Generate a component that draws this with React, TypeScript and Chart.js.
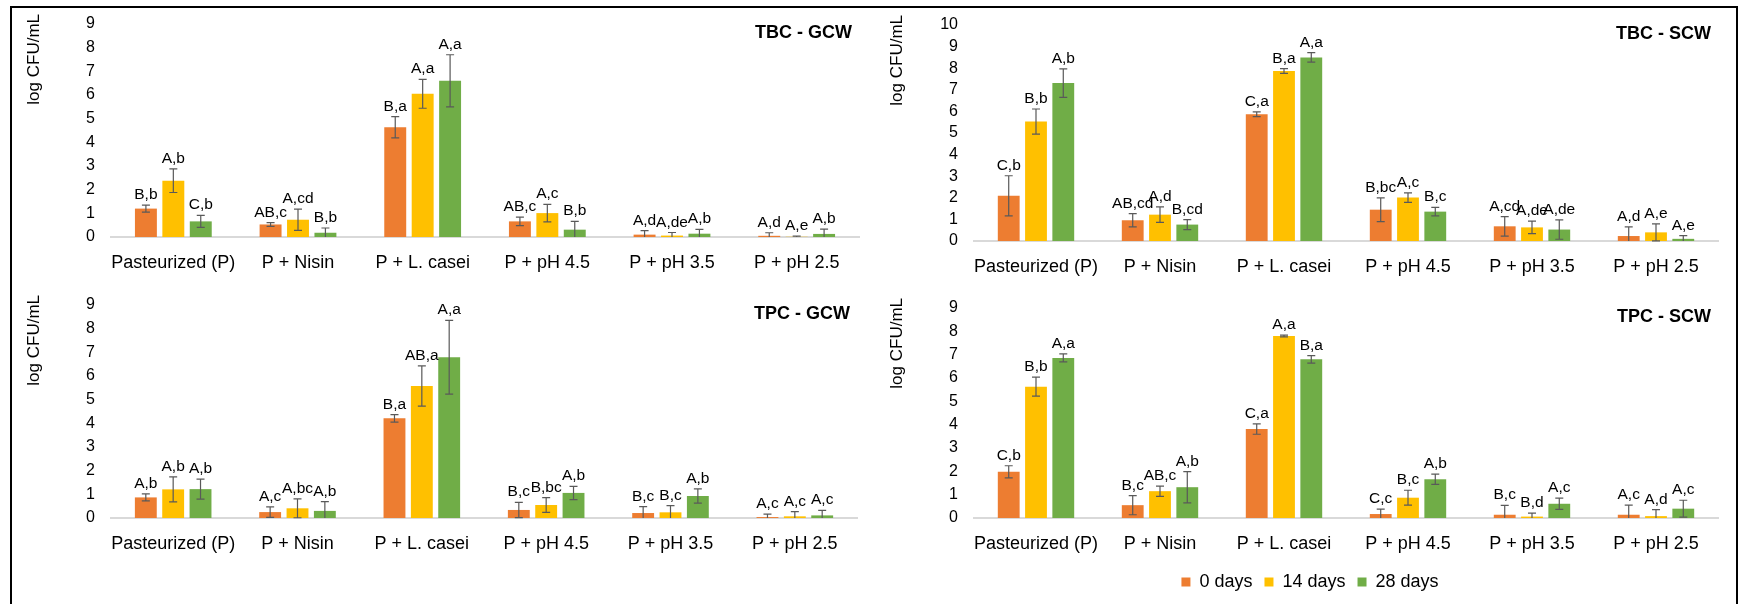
import { useEffect, useRef } from 'react';
import { Chart, registerables } from 'chart.js';

Chart.register(...registerables);

const FONT = "'Liberation Sans', Arial, sans-serif";

const categories = ['Pasteurized (P)', 'P + Nisin', 'P + L. casei', 'P + pH 4.5', 'P + pH 3.5', 'P + pH 2.5'];
const seriesNames = ['0 days', '14 days', '28 days'];
const seriesColors = ['#ED7D31', '#FFC000', '#70AD47'];

// TBC - GCW
const tbcGcwDay0 = [1.2, 0.53, 4.64, 0.66, 0.1, 0.05];
const tbcGcwDay14 = [2.38, 0.73, 6.05, 1.01, 0.06, 0.01];
const tbcGcwDay28 = [0.66, 0.18, 6.6, 0.31, 0.14, 0.13];
const tbcGcwSd0 = [0.15, 0.08, 0.45, 0.18, 0.17, 0.13];
const tbcGcwSd14 = [0.5, 0.45, 0.61, 0.37, 0.13, 0.03];
const tbcGcwSd28 = [0.25, 0.2, 1.1, 0.35, 0.18, 0.2];
const tbcGcwLetters0 = ['B,b', 'AB,c', 'B,a', 'AB,c', 'A,d', 'A,d'];
const tbcGcwLetters14 = ['A,b', 'A,cd', 'A,a', 'A,c', 'A,de', 'A,e'];
const tbcGcwLetters28 = ['C,b', 'B,b', 'A,a', 'B,b', 'A,b', 'A,b'];

// TBC - SCW
const tbcScwDay0 = [2.09, 0.96, 5.87, 1.45, 0.68, 0.23];
const tbcScwDay14 = [5.53, 1.22, 7.87, 2.01, 0.63, 0.4];
const tbcScwDay28 = [7.31, 0.76, 8.5, 1.36, 0.53, 0.1];
const tbcScwSd0 = [0.93, 0.31, 0.11, 0.55, 0.45, 0.42];
const tbcScwSd14 = [0.58, 0.36, 0.11, 0.22, 0.29, 0.39];
const tbcScwSd28 = [0.66, 0.23, 0.22, 0.2, 0.45, 0.15];
const tbcScwLetters0 = ['C,b', 'AB,cd', 'C,a', 'B,bc', 'A,cd', 'A,d'];
const tbcScwLetters14 = ['B,b', 'A,d', 'B,a', 'A,c', 'A,de', 'A,e'];
const tbcScwLetters28 = ['A,b', 'B,cd', 'A,a', 'B,c', 'A,de', 'A,e'];

// TPC - GCW
const tpcGcwDay0 = [0.87, 0.25, 4.21, 0.34, 0.21, 0.04];
const tpcGcwDay14 = [1.21, 0.41, 5.58, 0.55, 0.24, 0.07];
const tpcGcwDay28 = [1.22, 0.3, 6.79, 1.06, 0.93, 0.11];
const tpcGcwSd0 = [0.15, 0.22, 0.16, 0.32, 0.27, 0.12];
const tpcGcwSd14 = [0.53, 0.4, 0.85, 0.31, 0.28, 0.2];
const tpcGcwSd28 = [0.42, 0.39, 1.56, 0.28, 0.3, 0.21];
const tpcGcwLetters0 = ['A,b', 'A,c', 'B,a', 'B,c', 'B,c', 'A,c'];
const tpcGcwLetters14 = ['A,b', 'A,bc', 'AB,a', 'B,bc', 'B,c', 'A,c'];
const tpcGcwLetters28 = ['A,b', 'A,b', 'A,a', 'A,b', 'A,b', 'A,c'];

// TPC - SCW
const tpcScwDay0 = [1.98, 0.55, 3.81, 0.17, 0.14, 0.14];
const tpcScwDay14 = [5.63, 1.15, 7.8, 0.87, 0.06, 0.08];
const tpcScwDay28 = [6.86, 1.32, 6.8, 1.66, 0.61, 0.4];
const tpcScwSd0 = [0.26, 0.41, 0.22, 0.21, 0.4, 0.41];
const tpcScwSd14 = [0.41, 0.22, 0.04, 0.32, 0.15, 0.28];
const tpcScwSd28 = [0.17, 0.67, 0.16, 0.22, 0.24, 0.36];
const tpcScwLetters0 = ['C,b', 'B,c', 'C,a', 'C,c', 'B,c', 'A,c'];
const tpcScwLetters14 = ['B,b', 'AB,c', 'A,a', 'B,c', 'B,d', 'A,d'];
const tpcScwLetters28 = ['A,a', 'A,b', 'B,a', 'A,b', 'A,c', 'A,c'];

const yMaxGcw = 9;
const yMaxTbcScw = 10;
const yMaxTpcScw = 9;

// Error bars with letter annotations above each bar
const barAnnotations = {
  id: 'barAnnotations',
  afterDatasetsDraw(chart: any, _args: any, opts: any) {
    const { ctx, chartArea } = chart;
    const yScale = chart.scales.y;
    chart.data.datasets.forEach((ds: any, di: number) => {
      const meta = chart.getDatasetMeta(di);
      meta.data.forEach((bar: any, i: number) => {
        const v = ds.data[i] as number;
        const e = opts.errors[di][i] as number;
        const x = bar.x;
        const top = yScale.getPixelForValue(v + e);
        const rawBottom = yScale.getPixelForValue(v - e);
        const bottom = Math.min(rawBottom, chartArea.bottom);
        ctx.save();
        ctx.strokeStyle = '#595959';
        ctx.lineWidth = 1.2;
        ctx.beginPath();
        ctx.moveTo(x, top);
        ctx.lineTo(x, bottom);
        ctx.moveTo(x - 4, top);
        ctx.lineTo(x + 4, top);
        if (rawBottom <= chartArea.bottom) {
          ctx.moveTo(x - 4, bottom);
          ctx.lineTo(x + 4, bottom);
        }
        ctx.stroke();
        ctx.fillStyle = '#000';
        ctx.font = `15.5px ${FONT}`;
        ctx.textAlign = 'center';
        ctx.textBaseline = 'alphabetic';
        ctx.fillText(opts.letters[di][i], x, top - 6);
        ctx.restore();
      });
    });
  },
};

// Panel title (top right) and rotated y-axis title
const panelText = {
  id: 'panelText',
  afterDraw(chart: any, _args: any, opts: any) {
    const { ctx, chartArea } = chart;
    ctx.save();
    ctx.fillStyle = '#000';
    ctx.font = `bold 18px ${FONT}`;
    ctx.textAlign = 'right';
    ctx.textBaseline = 'middle';
    ctx.fillText(opts.title, chartArea.right - 7, chartArea.top + 9);
    ctx.translate(chartArea.left - 77, chartArea.top - 10);
    ctx.rotate(-Math.PI / 2);
    ctx.font = `17px ${FONT}`;
    ctx.textAlign = 'right';
    ctx.textBaseline = 'middle';
    ctx.fillText('log CFU/mL', 0, 0);
    ctx.restore();
  },
};

type Panel = {
  title: string;
  yMax: number;
  means: number[][];
  errors: number[][];
  letters: string[][];
  left: number;
  top: number;
  width: number;
  height: number;
  yWidth: number;
  xHeight: number;
  padding: { top: number; right: number; bottom: number; left: number };
  legend: boolean;
};

const panels: Panel[] = [
  {
    title: 'TBC - GCW',
    yMax: yMaxGcw,
    means: [tbcGcwDay0, tbcGcwDay14, tbcGcwDay28],
    errors: [tbcGcwSd0, tbcGcwSd14, tbcGcwSd28],
    letters: [tbcGcwLetters0, tbcGcwLetters14, tbcGcwLetters28],
    left: 12, top: 8, width: 858, height: 280,
    yWidth: 99, xHeight: 51,
    padding: { top: 16, right: 11, bottom: 0, left: 0 },
    legend: false,
  },
  {
    title: 'TBC - SCW',
    yMax: yMaxTbcScw,
    means: [tbcScwDay0, tbcScwDay14, tbcScwDay28],
    errors: [tbcScwSd0, tbcScwSd14, tbcScwSd28],
    letters: [tbcScwLetters0, tbcScwLetters14, tbcScwLetters28],
    left: 872, top: 8, width: 862, height: 280,
    yWidth: 102, xHeight: 47,
    padding: { top: 17, right: 16, bottom: 0, left: 0 },
    legend: false,
  },
  {
    title: 'TPC - GCW',
    yMax: yMaxGcw,
    means: [tpcGcwDay0, tpcGcwDay14, tpcGcwDay28],
    errors: [tpcGcwSd0, tpcGcwSd14, tpcGcwSd28],
    letters: [tpcGcwLetters0, tpcGcwLetters14, tpcGcwLetters28],
    left: 12, top: 290, width: 858, height: 300,
    yWidth: 99, xHeight: 72,
    padding: { top: 15, right: 13, bottom: 0, left: 0 },
    legend: false,
  },
  {
    title: 'TPC - SCW',
    yMax: yMaxTpcScw,
    means: [tpcScwDay0, tpcScwDay14, tpcScwDay28],
    errors: [tpcScwSd0, tpcScwSd14, tpcScwSd28],
    letters: [tpcScwLetters0, tpcScwLetters14, tpcScwLetters28],
    left: 872, top: 290, width: 862, height: 314,
    yWidth: 72, xHeight: 43,
    padding: { top: 18, right: 16, bottom: 3, left: 30 },
    legend: true,
  },
];

function PanelChart({ panel }: { panel: Panel }) {
  const ref = useRef<HTMLCanvasElement>(null);

  useEffect(() => {
    if (!ref.current) return;
    const chart = new Chart(ref.current, {
      type: 'bar',
      data: {
        labels: categories,
        datasets: panel.means.map((values, i) => ({
          label: seriesNames[i],
          data: values,
          backgroundColor: seriesColors[i],
          barPercentage: 0.8,
          categoryPercentage: 0.66,
        })),
      },
      options: {
        responsive: false,
        animation: false,
        layout: { padding: panel.padding },
        scales: {
          x: {
            grid: { display: false, drawTicks: false },
            border: { display: true, color: '#D9D9D9', width: 2 },
            ticks: {
              autoSkip: false,
              maxRotation: 0,
              color: '#000',
              padding: 15,
              font: { family: FONT, size: 18 },
            },
            afterFit: (scale: any) => {
              scale.height = panel.xHeight;
              scale.paddingLeft = 0;
              scale.paddingRight = 0;
            },
          },
          y: {
            min: 0,
            max: panel.yMax,
            grid: { display: false, drawTicks: false },
            border: { display: false },
            ticks: {
              stepSize: 1,
              autoSkip: false,
              color: '#000',
              padding: 16,
              font: { family: FONT, size: 16 },
            },
            afterFit: (scale: any) => {
              scale.width = panel.yWidth;
              scale.paddingTop = 0;
              scale.paddingBottom = 0;
            },
          },
        },
        plugins: {
          legend: {
            display: panel.legend,
            position: 'bottom',
            labels: {
              boxWidth: 9,
              boxHeight: 9,
              padding: 12,
              color: '#000',
              font: { family: FONT, size: 18 },
            },
          },
          tooltip: { enabled: false },
          barAnnotations: { errors: panel.errors, letters: panel.letters },
          panelText: { title: panel.title },
        } as any,
      },
      plugins: [barAnnotations, panelText],
    });
    return () => chart.destroy();
  }, [panel]);

  return (
    <canvas
      ref={ref}
      width={panel.width}
      height={panel.height}
      style={{
        position: 'absolute',
        left: panel.left,
        top: panel.top,
        width: panel.width,
        height: panel.height,
      }}
    />
  );
}

export default function App() {
  return (
    <div
      style={{
        position: 'absolute',
        left: 0,
        top: 0,
        width: 1743,
        height: 604,
        background: '#fff',
        overflow: 'hidden',
      }}
    >
      <div
        style={{
          position: 'absolute',
          left: 10,
          top: 6,
          width: 1728,
          height: 700,
          border: '2px solid #000',
          boxSizing: 'border-box',
        }}
      />
      {panels.map((p) => (
        <PanelChart key={p.title} panel={p} />
      ))}
    </div>
  );
}
